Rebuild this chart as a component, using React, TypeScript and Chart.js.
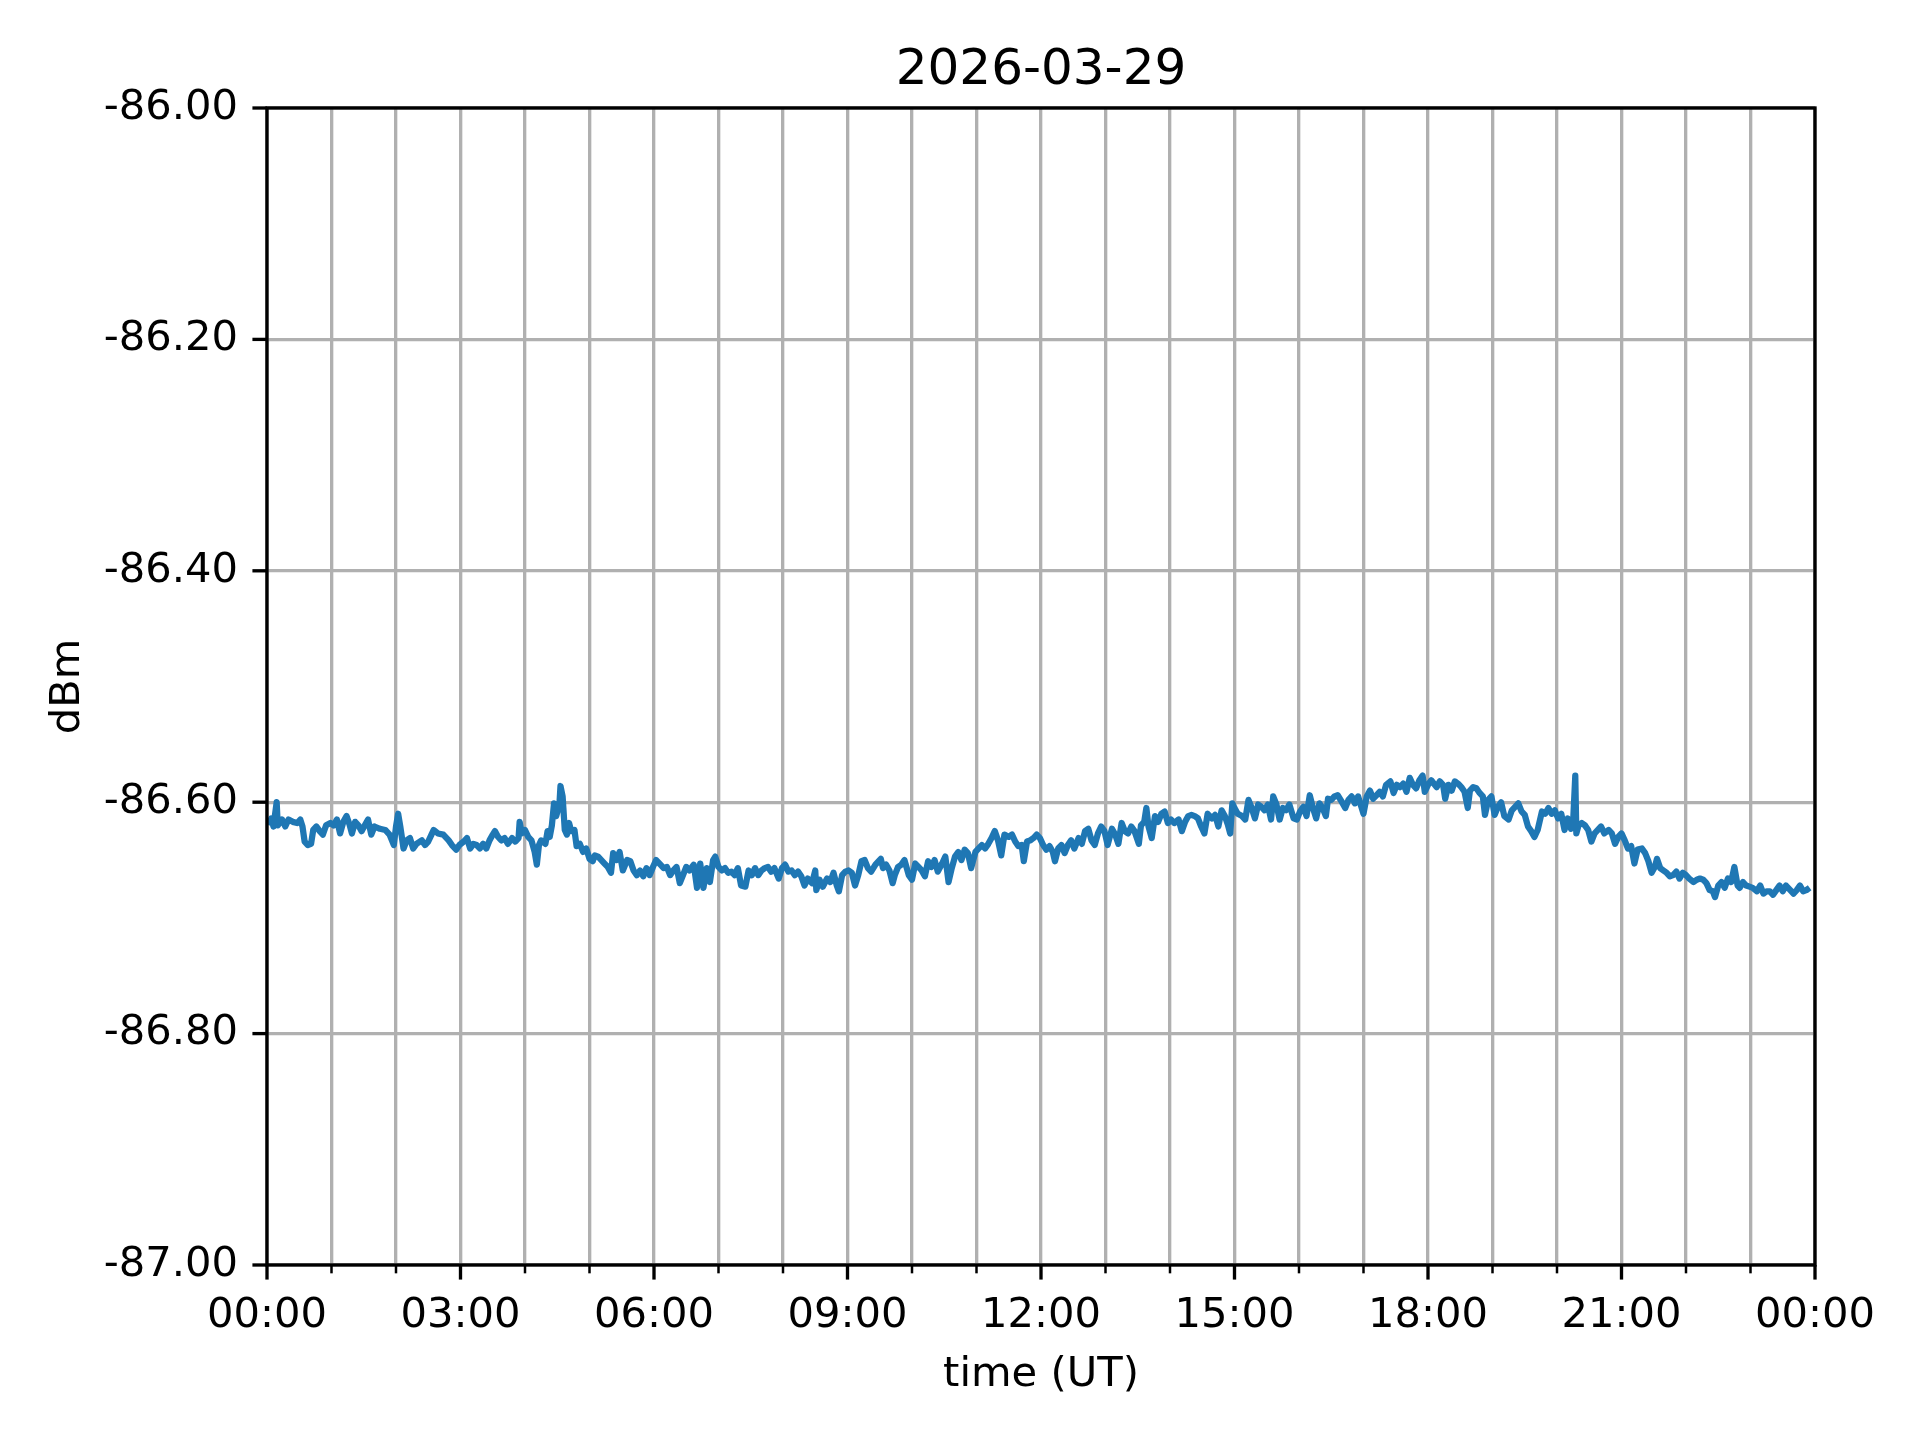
import React, { useEffect, useRef } from "react";
import { Chart, registerables } from "chart.js";

Chart.register(...registerables);

const TITLE = "2026-03-29";
const X_LABEL = "time (UT)";
const Y_LABEL = "dBm";
const X_TICK_LABELS = ["00:00", "03:00", "06:00", "09:00", "12:00", "15:00", "18:00", "21:00", "00:00"];
const X_TICK_MINUTES = [0, 60, 120, 180, 240, 300, 360, 420, 480, 540, 600, 660, 720, 780, 840, 900, 960, 1020, 1080, 1140, 1200, 1260, 1320, 1380, 1440];
const Y_TICKS = [-87.0, -86.8, -86.6, -86.4, -86.2, -86.0];

// [minute of day (UT), dBm]
const seg00to06: [number, number][] = [
  [2, -86.620], [4, -86.614], [6, -86.621], [9, -86.600], [10, -86.620], [14, -86.615], [17, -86.621], [20, -86.615], [24, -86.617], [28, -86.618],
  [31, -86.615], [33, -86.621], [35, -86.634], [38, -86.637], [41, -86.636], [43, -86.624], [46, -86.621], [49, -86.625], [52, -86.628], [55, -86.620],
  [59, -86.618], [62, -86.620], [65, -86.615], [68, -86.627], [71, -86.617], [74, -86.612], [77, -86.620], [79, -86.627], [82, -86.617], [85, -86.620],
  [88, -86.625], [91, -86.620], [94, -86.615], [97, -86.628], [100, -86.621], [105, -86.623], [110, -86.624], [114, -86.628], [118, -86.637], [120, -86.621],
  [122, -86.610], [124, -86.621], [127, -86.640], [130, -86.633], [133, -86.631], [136, -86.640], [139, -86.636], [144, -86.633], [147, -86.637], [150, -86.634],
  [153, -86.628], [155, -86.624], [159, -86.627], [164, -86.628], [169, -86.633], [172, -86.637], [176, -86.641], [179, -86.637], [183, -86.634], [186, -86.631],
  [189, -86.640], [192, -86.636], [195, -86.637], [198, -86.640], [201, -86.636], [204, -86.640], [207, -86.633], [210, -86.628], [212, -86.625], [215, -86.630],
  [218, -86.633], [221, -86.631], [224, -86.636], [228, -86.631], [231, -86.634], [234, -86.631], [235, -86.617], [237, -86.627], [240, -86.624], [243, -86.630],
  [246, -86.633], [249, -86.643], [251, -86.654], [253, -86.637], [255, -86.633], [259, -86.636], [261, -86.625], [263, -86.630], [265, -86.620], [267, -86.601],
  [269, -86.612], [272, -86.602], [273, -86.586], [275, -86.595], [277, -86.624], [279, -86.628], [281, -86.618], [283, -86.625], [286, -86.624], [288, -86.638],
  [291, -86.636], [294, -86.643], [297, -86.640], [300, -86.649], [303, -86.651], [305, -86.646], [308, -86.647], [311, -86.650], [314, -86.653], [317, -86.656],
  [320, -86.661], [322, -86.644], [325, -86.650], [328, -86.643], [331, -86.659], [335, -86.650], [338, -86.651], [341, -86.659], [344, -86.663], [347, -86.659],
  [350, -86.664], [353, -86.657], [356, -86.663], [359, -86.656],
];

const seg06to12: [number, number][] = [
  [362, -86.650], [366, -86.654], [369, -86.657], [372, -86.656], [375, -86.663], [378, -86.659], [381, -86.656], [384, -86.670], [387, -86.663], [390, -86.656],
  [393, -86.659], [397, -86.654], [400, -86.674], [403, -86.653], [406, -86.674], [409, -86.657], [412, -86.669], [415, -86.650], [417, -86.647], [420, -86.656],
  [423, -86.659], [426, -86.657], [429, -86.661], [432, -86.660], [435, -86.663], [438, -86.657], [441, -86.672], [445, -86.673], [448, -86.659], [451, -86.663],
  [454, -86.657], [457, -86.663], [460, -86.659], [463, -86.657], [466, -86.656], [469, -86.660], [472, -86.657], [476, -86.666], [479, -86.657], [482, -86.654],
  [485, -86.660], [488, -86.659], [491, -86.663], [494, -86.660], [497, -86.664], [500, -86.672], [503, -86.666], [507, -86.670], [510, -86.659], [511, -86.676],
  [514, -86.667], [517, -86.673], [521, -86.666], [524, -86.669], [527, -86.661], [530, -86.672], [532, -86.677], [535, -86.663], [538, -86.660], [541, -86.659],
  [544, -86.661], [547, -86.672], [550, -86.663], [553, -86.651], [556, -86.650], [559, -86.657], [562, -86.660], [566, -86.654], [569, -86.651], [571, -86.649],
  [573, -86.657], [576, -86.654], [579, -86.659], [582, -86.670], [584, -86.663], [587, -86.656], [590, -86.654], [593, -86.650], [597, -86.663], [600, -86.667],
  [603, -86.653], [606, -86.656], [609, -86.659], [612, -86.664], [615, -86.651], [618, -86.656], [621, -86.650], [624, -86.660], [628, -86.653], [631, -86.647],
  [634, -86.669], [637, -86.657], [640, -86.647], [643, -86.643], [646, -86.650], [649, -86.641], [652, -86.644], [655, -86.657], [659, -86.643], [662, -86.640],
  [665, -86.637], [668, -86.640], [671, -86.636], [674, -86.631], [677, -86.625], [680, -86.633], [683, -86.646], [686, -86.628], [690, -86.630], [693, -86.628],
  [696, -86.634], [699, -86.638], [702, -86.637], [704, -86.651], [707, -86.634], [710, -86.633], [713, -86.631], [716, -86.628], [719, -86.631], [722, -86.637],
];

const seg12to18: [number, number][] = [
  [725, -86.641], [728, -86.638], [731, -86.643], [733, -86.651], [736, -86.640], [739, -86.637], [742, -86.644], [745, -86.637], [748, -86.633], [751, -86.640],
  [755, -86.631], [758, -86.636], [761, -86.625], [764, -86.623], [767, -86.633], [770, -86.637], [773, -86.627], [776, -86.621], [779, -86.625], [782, -86.637],
  [786, -86.623], [789, -86.628], [792, -86.636], [795, -86.618], [798, -86.625], [801, -86.627], [804, -86.621], [807, -86.625], [811, -86.636], [813, -86.620],
  [816, -86.617], [818, -86.605], [820, -86.621], [823, -86.631], [826, -86.612], [829, -86.617], [832, -86.610], [835, -86.608], [838, -86.618], [841, -86.615],
  [844, -86.618], [848, -86.615], [851, -86.625], [854, -86.617], [857, -86.612], [860, -86.611], [863, -86.612], [866, -86.614], [869, -86.621], [872, -86.627],
  [875, -86.610], [879, -86.614], [882, -86.611], [885, -86.621], [888, -86.607], [891, -86.612], [894, -86.620], [896, -86.627], [898, -86.601], [900, -86.605],
  [903, -86.610], [907, -86.612], [910, -86.615], [913, -86.598], [916, -86.605], [919, -86.614], [922, -86.602], [925, -86.604], [928, -86.607], [931, -86.602],
  [934, -86.615], [936, -86.595], [939, -86.602], [942, -86.615], [945, -86.605], [948, -86.607], [951, -86.602], [955, -86.614], [958, -86.615], [961, -86.608],
  [964, -86.604], [967, -86.612], [970, -86.594], [973, -86.605], [976, -86.614], [979, -86.601], [982, -86.605], [985, -86.612], [987, -86.597], [990, -86.598],
  [993, -86.595], [996, -86.594], [1000, -86.600], [1003, -86.605], [1006, -86.598], [1009, -86.595], [1012, -86.601], [1015, -86.595], [1018, -86.604], [1020, -86.610],
  [1023, -86.595], [1026, -86.590], [1029, -86.597], [1032, -86.594], [1035, -86.591], [1038, -86.595], [1041, -86.585], [1045, -86.582], [1048, -86.592], [1051, -86.585],
  [1054, -86.587], [1057, -86.584], [1060, -86.591], [1063, -86.579], [1066, -86.585], [1069, -86.588], [1072, -86.581], [1075, -86.577], [1077, -86.591], [1080, -86.585],
  [1083, -86.581],
];

const seg18to24: [number, number][] = [
  [1088, -86.587], [1091, -86.582], [1094, -86.585], [1096, -86.597], [1099, -86.585], [1102, -86.590], [1105, -86.582], [1108, -86.584], [1111, -86.587], [1114, -86.591],
  [1117, -86.605], [1119, -86.590], [1122, -86.587], [1125, -86.588], [1128, -86.592], [1131, -86.595], [1133, -86.611], [1136, -86.598], [1139, -86.595], [1142, -86.611],
  [1145, -86.604], [1148, -86.600], [1151, -86.612], [1155, -86.615], [1158, -86.607], [1161, -86.604], [1164, -86.601], [1167, -86.608], [1170, -86.611], [1173, -86.621],
  [1176, -86.625], [1179, -86.630], [1182, -86.624], [1186, -86.608], [1189, -86.610], [1192, -86.605], [1195, -86.610], [1198, -86.607], [1201, -86.614], [1204, -86.610],
  [1207, -86.624], [1210, -86.614], [1213, -86.623], [1215, -86.617], [1217, -86.577], [1218, -86.627], [1220, -86.620], [1223, -86.618], [1226, -86.620], [1229, -86.624],
  [1232, -86.634], [1235, -86.627], [1238, -86.624], [1241, -86.621], [1244, -86.627], [1248, -86.624], [1251, -86.627], [1254, -86.636], [1257, -86.630], [1260, -86.627],
  [1263, -86.633], [1266, -86.640], [1269, -86.638], [1272, -86.653], [1275, -86.641], [1279, -86.640], [1282, -86.644], [1285, -86.651], [1288, -86.661], [1291, -86.656],
  [1293, -86.649], [1296, -86.657], [1299, -86.659], [1302, -86.661], [1305, -86.664], [1308, -86.663], [1311, -86.660], [1314, -86.666], [1317, -86.661], [1320, -86.663],
  [1323, -86.666], [1327, -86.669], [1330, -86.667], [1333, -86.666], [1336, -86.667], [1339, -86.670], [1342, -86.676], [1345, -86.677], [1347, -86.682], [1350, -86.672],
  [1353, -86.669], [1356, -86.674], [1359, -86.666], [1362, -86.669], [1365, -86.656], [1368, -86.672], [1370, -86.674], [1373, -86.669], [1376, -86.672], [1379, -86.673],
  [1382, -86.674], [1386, -86.677], [1389, -86.672], [1392, -86.679], [1395, -86.677], [1398, -86.677], [1401, -86.680], [1404, -86.676], [1407, -86.672], [1410, -86.677],
  [1413, -86.672], [1417, -86.676], [1420, -86.679], [1423, -86.676], [1426, -86.672], [1429, -86.677], [1432, -86.676], [1435, -86.674],
];

const PT = 300 / 72; // matplotlib points at 300 dpi

const mplAxesPlugin = {
  id: "mplAxes",
  afterDatasetsDraw(chart: any) {
    const { ctx, chartArea: a, scales } = chart;
    ctx.save();
    ctx.strokeStyle = "#000";
    ctx.lineCap = "butt";
    const xs = scales.x;
    for (const m of X_TICK_MINUTES) {
      const px = xs.getPixelForValue(m);
      const major = m % 180 === 0;
      ctx.lineWidth = major ? 0.8 * PT : 0.6 * PT;
      ctx.beginPath();
      ctx.moveTo(px, a.bottom);
      ctx.lineTo(px, a.bottom + (major ? 3.5 * PT : 2 * PT));
      ctx.stroke();
    }
    const ys = scales.y;
    for (const v of Y_TICKS) {
      const py = ys.getPixelForValue(v);
      ctx.lineWidth = 0.8 * PT;
      ctx.beginPath();
      ctx.moveTo(a.left - 3.5 * PT, py);
      ctx.lineTo(a.left, py);
      ctx.stroke();
    }
    ctx.lineWidth = 0.8 * PT;
    ctx.lineJoin = "miter";
    ctx.strokeRect(a.left, a.top, a.right - a.left, a.bottom - a.top);
    ctx.restore();
  },
};

export default function App() {
  const canvasRef = useRef<HTMLCanvasElement | null>(null);

  useEffect(() => {
    const canvas = canvasRef.current;
    if (!canvas) return;
    Chart.defaults.font.family = "'DejaVu Sans', 'Liberation Sans', sans-serif";
    Chart.defaults.color = "#000";

    const points = [...seg00to06, ...seg06to12, ...seg12to18, ...seg18to24].map(([x, y]) => ({ x, y }));
    const tickFont = { size: 10 * PT, family: "'DejaVu Sans', sans-serif" };

    const chart = new Chart(canvas, {
      type: "line",
      data: {
        datasets: [
          {
            label: "signal",
            data: points,
            borderColor: "#1f77b4",
            backgroundColor: "#1f77b4",
            borderWidth: 1.5 * PT,
            pointRadius: 0,
            pointHoverRadius: 0,
            fill: false,
            tension: 0,
            borderJoinStyle: "round",
            borderCapStyle: "butt",
          },
        ],
      },
      options: {
        responsive: false,
        animation: false,
        devicePixelRatio: 1,
        layout: { padding: { left: 0, right: 105, top: 0, bottom: 0 } },
        plugins: {
          legend: { display: false },
          tooltip: { enabled: false },
          title: {
            display: true,
            text: TITLE,
            fullSize: false,
            color: "#000",
            font: { size: 12 * PT, weight: "normal", family: "'DejaVu Sans', sans-serif", lineHeight: 1.2 },
            padding: { top: 41, bottom: 7 },
          },
        },
        scales: {
          x: {
            type: "linear",
            min: 0,
            max: 1440,
            afterFit: (s: any) => {
              s.height = 175;
            },
            afterBuildTicks: (s: any) => {
              s.ticks = X_TICK_MINUTES.map((v) => ({ value: v }));
            },
            border: { display: false },
            grid: { color: "#b0b0b0", lineWidth: 0.8 * PT, drawTicks: false },
            ticks: {
              autoSkip: false,
              maxRotation: 0,
              minRotation: 0,
              padding: 26,
              color: "#000",
              font: tickFont,
              callback: (v: any) => (Number(v) % 180 === 0 ? X_TICK_LABELS[Number(v) / 180] : ""),
            },
            title: {
              display: true,
              text: X_LABEL,
              color: "#000",
              font: { ...tickFont, lineHeight: 1.2 },
              padding: { top: 0, bottom: 40 },
            },
          },
          y: {
            type: "linear",
            min: -87,
            max: -86,
            afterFit: (s: any) => {
              s.width = 267;
            },
            afterBuildTicks: (s: any) => {
              s.ticks = Y_TICKS.map((v) => ({ value: v }));
            },
            border: { display: false },
            grid: { color: "#b0b0b0", lineWidth: 0.8 * PT, drawTicks: false },
            ticks: {
              padding: 29,
              color: "#000",
              font: tickFont,
              callback: (v: any) => Number(v).toFixed(2),
            },
            title: {
              display: true,
              text: Y_LABEL,
              color: "#000",
              font: { ...tickFont, lineHeight: 1.2 },
              padding: { top: 43, bottom: 0 },
            },
          },
        },
      },
      plugins: [mplAxesPlugin],
    } as any);

    return () => chart.destroy();
  }, []);

  return (
    <div style={{ position: "absolute", left: 0, top: 0, width: 1920, height: 1440, background: "#fff" }}>
      <canvas ref={canvasRef} width={1920} height={1440} style={{ display: "block", width: 1920, height: 1440 }} />
    </div>
  );
}
